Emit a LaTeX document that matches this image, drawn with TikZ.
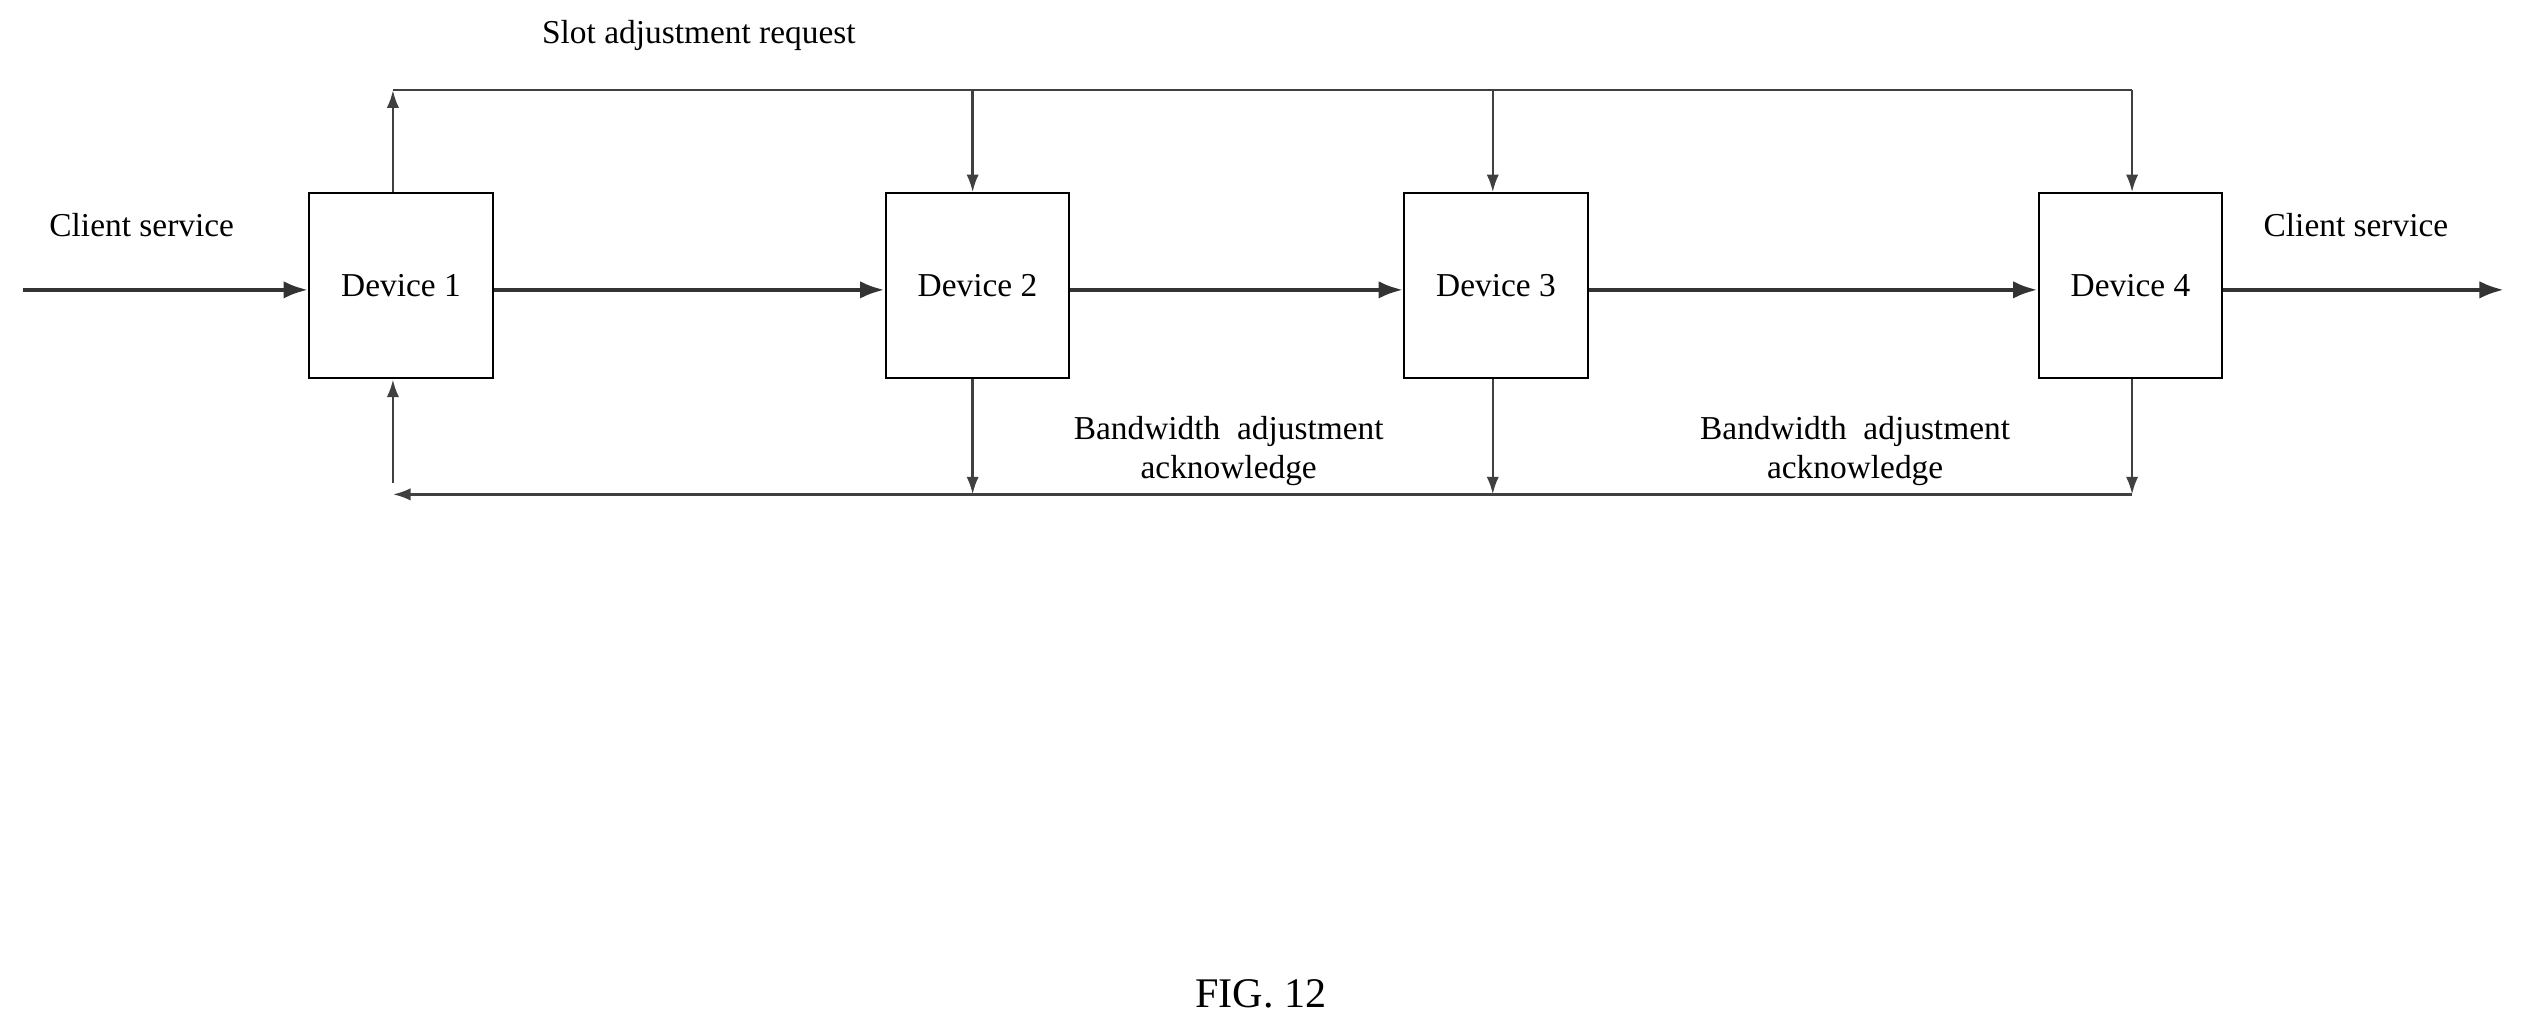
\documentclass[tikz,border=0pt]{standalone}
\usepackage{fontspec}
\setmainfont{Liberation Serif}
\usetikzlibrary{arrows.meta}
\begin{document}
\begin{tikzpicture}[x=0.0161cm,y=-0.0161cm,
  box/.style={draw,line width=0.6pt,minimum width=114*0.0161cm,minimum height=115*0.0161cm,inner sep=0pt,font=\fontsize{9.5pt}{11pt}\selectfont},
  flow/.style={line width=1.2pt,draw=black!80,-{Latex[length=7pt,width=5pt]}},
  sig/.style={line width=0.7pt,draw=black!75,-{Latex[length=5pt,width=3.5pt]}},
  line/.style={line width=0.7pt,draw=black!75},
  lab/.style={font=\fontsize{9.5pt}{11pt}\selectfont,align=center}]
\useasboundingbox (0,0) rectangle (1568,640);
\node[box] (d1) at (249,177.5) {Device 1};
\node[box] (d2) at (607,177.5) {Device 2};
\node[box] (d3) at (929,177.5) {Device 3};
\node[box] (d4) at (1323,177.5) {Device 4};
\coordinate (in) at (14,180);
\coordinate (out) at (1555,180);
\draw[flow] (in) -- (d1.west|-in);
\draw[flow] (d1.east|-in) -- (d2.west|-in);
\draw[flow] (d2.east|-in) -- (d3.west|-in);
\draw[flow] (d3.east|-in) -- (d4.west|-in);
\draw[flow] (d4.east|-in) -- (out);
% top request line
\coordinate (t1) at (244,56);
\coordinate (t4) at (1324,56);
\draw[sig] (d1.north-|t1) -- (t1);
\draw[line] (t1) -- (t4);
\draw[sig] (604,56) -- (d2.north-|604,0);
\draw[sig] (927,56) -- (d3.north-|927,0);
\draw[sig] (t4) -- (d4.north-|t4);
% bottom ack line
\coordinate (b1) at (244,307);
\coordinate (b4) at (1324,307);
\coordinate (b1u) at (244,300);
\draw[sig] (b1u) -- (d1.south-|b1u);
\draw[sig] (b4) -- (b1);
\draw[sig] (d2.south-|604,0) -- (604,307);
\draw[sig] (d3.south-|927,0) -- (927,307);
\draw[sig] (d4.south-|b4) -- (b4);
\node[lab] (l1) at (434,22) {Slot adjustment request};
\node[lab] (l2) at (88,140) {Client service};
\node[lab] (l3) at (1463,140) {Client service};
\node[lab] (l4) at (763,280) {Bandwidth\ \ adjustment\\acknowledge};
\node[lab] (l5) at (1152,280) {Bandwidth\ \ adjustment\\acknowledge};
\node[font=\fontsize{12pt}{14pt}\selectfont] (fig) at (783,617) {FIG. 12};
\end{tikzpicture}
\end{document}
